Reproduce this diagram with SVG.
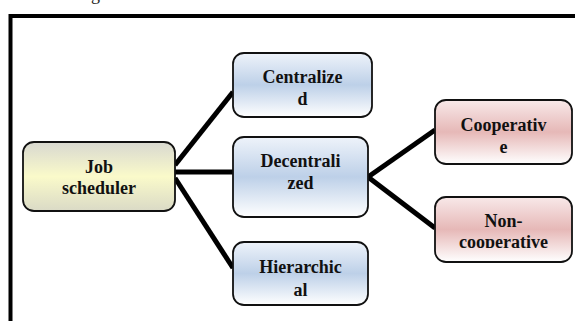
<svg xmlns="http://www.w3.org/2000/svg" width="575" height="321" viewBox="0 0 575 321">
  <defs>
    <linearGradient id="gYellow" x1="0" y1="0" x2="0" y2="1">
      <stop offset="0" stop-color="#d8d8d0"/>
      <stop offset="0.5" stop-color="#fafaca"/>
      <stop offset="1" stop-color="#dadac6"/>
    </linearGradient>
    <linearGradient id="gBlue" x1="0" y1="0" x2="0" y2="1">
      <stop offset="0" stop-color="#eef3fa"/>
      <stop offset="0.5" stop-color="#bdd0e8"/>
      <stop offset="1" stop-color="#ffffff"/>
    </linearGradient>
    <linearGradient id="gRed" x1="0" y1="0" x2="0" y2="1">
      <stop offset="0" stop-color="#f8e9e9"/>
      <stop offset="0.5" stop-color="#e6b8b7"/>
      <stop offset="1" stop-color="#ffffff"/>
    </linearGradient>
    <clipPath id="clipNonCoop">
      <rect x="435" y="197" width="137" height="51"/>
    </clipPath>
  </defs>
  <style>
    .box { stroke: #111; stroke-width: 1.8; }
    .lbl { font-family: "Liberation Serif", "Times New Roman", serif; font-weight: bold; font-size: 18px; fill: #111; text-anchor: middle; }
    .edge { stroke: #000; stroke-width: 5; fill: none; }
  </style>

  <rect width="575" height="321" fill="#ffffff"/>

  <!-- caption descender above the frame -->
  <text x="91" y="0" style="font-family: 'Liberation Serif', serif; font-size: 18px; fill: #222;">g</text>

  <!-- outer frame -->
  <path d="M10.5,321 V16 H575" fill="none" stroke="#000" stroke-width="4"/>

  <g id="connectors">
    <line class="edge" x1="175" y1="165" x2="233" y2="92"/>
    <line class="edge" x1="175" y1="172" x2="233" y2="172"/>
    <line class="edge" x1="175" y1="178" x2="233" y2="268"/>
    <line class="edge" x1="368" y1="177" x2="435" y2="130"/>
    <line class="edge" x1="368" y1="177" x2="435" y2="228"/>
  </g>

  <g id="job-scheduler">
    <rect class="box" x="23" y="142" width="152" height="69" rx="11" fill="url(#gYellow)"/>
    <text class="lbl" x="99" y="173">Job</text>
    <text class="lbl" x="99" y="194">scheduler</text>
  </g>

  <g id="centralized">
    <rect class="box" x="233" y="53" width="139" height="64" rx="11" fill="url(#gBlue)"/>
    <text class="lbl" x="302.5" y="82.5">Centralize</text>
    <text class="lbl" x="302.5" y="104.5">d</text>
  </g>

  <g id="decentralized">
    <rect class="box" x="233" y="137" width="135" height="80" rx="11" fill="url(#gBlue)"/>
    <text class="lbl" x="300.5" y="167">Decentrali</text>
    <text class="lbl" x="300.5" y="189">zed</text>
  </g>

  <g id="hierarchical">
    <rect class="box" x="233" y="242" width="135" height="63" rx="11" fill="url(#gBlue)"/>
    <text class="lbl" x="300.5" y="273">Hierarchic</text>
    <text class="lbl" x="300.5" y="296">al</text>
  </g>

  <g id="cooperative">
    <rect class="box" x="435" y="100" width="137" height="64" rx="11" fill="url(#gRed)"/>
    <text class="lbl" x="503.5" y="130.5">Cooperativ</text>
    <text class="lbl" x="503.5" y="153">e</text>
  </g>

  <g id="non-cooperative">
    <rect class="box" x="435" y="197" width="137" height="65" rx="11" fill="url(#gRed)"/>
    <g clip-path="url(#clipNonCoop)">
      <text class="lbl" x="503.5" y="226.5">Non-</text>
      <text class="lbl" x="503.5" y="247.5">cooperative</text>
    </g>
  </g>
</svg>
